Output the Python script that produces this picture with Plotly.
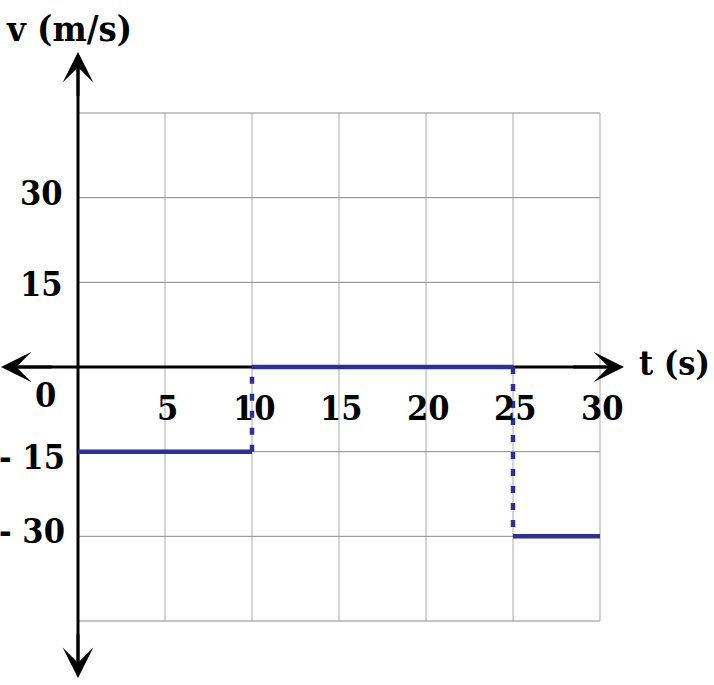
import plotly.graph_objects as go

# step velocity graph: v changes at t = 10 and t = 25
t_breaks = [0, 10, 25, 30]
v_levels = [-15, 0, -30]

x_grid = [0, 5, 10, 15, 20, 25, 30]
y_grid = [-45, -30, -15, 0, 15, 30, 45]

x_ticks = [5, 10, 15, 20, 25, 30]
x_labels = ["5", "10", "15", "20", "25", "30"]
y_ticks = [30, 15, -15, -30]
y_labels = ["30", "15", "- 15", "- 30"]

W, H = 714, 685
# pixel mapping of the drawing area
px_x0, px_x30 = 78, 600
px_y45, px_ym45 = 113, 621
sx = (px_x30 - px_x0) / 30
sy = (px_ym45 - px_y45) / 90
px_y0 = (px_y45 + px_ym45) / 2
x_range = [-px_x0 / sx, (W - px_x0) / sx]
y_range = [-(H - px_y0) / sy, px_y0 / sy]

blue = "#2E3192"
font_fam = "DejaVu Serif Condensed, DejaVu Serif"
lab_font = dict(family=font_fam, size=34, color="black", weight="bold")

fig = go.Figure()

# grid
gx, gy = [], []
for xv in x_grid:
    gx += [xv, xv, None]
    gy += [y_grid[0], y_grid[-1], None]
fig.add_trace(go.Scatter(x=gx, y=gy, mode="lines",
                         line=dict(color="#ababab", width=1), hoverinfo="skip"))
hx, hy = [], []
for yv in y_grid:
    hx += [x_grid[0], x_grid[-1], None]
    hy += [yv, yv, None]
fig.add_trace(go.Scatter(x=hx, y=hy, mode="lines",
                         line=dict(color="#8a8a8a", width=1), hoverinfo="skip"))

# axes lines
x_left, x_right = (1 - px_x0) / sx, (624 - px_x0) / sx
y_bot, y_top = -(678 - px_y0) / sy, (px_y0 - 52) / sy
fig.add_trace(go.Scatter(x=[x_left + 1, x_right - 1], y=[0, 0], mode="lines",
                         line=dict(color="black", width=3), hoverinfo="skip"))
fig.add_trace(go.Scatter(x=[0, 0], y=[y_bot + 3, y_top - 3], mode="lines",
                         line=dict(color="black", width=3), hoverinfo="skip"))

# solid levels
for i, v in enumerate(v_levels):
    fig.add_trace(go.Scatter(x=[t_breaks[i], t_breaks[i + 1]], y=[v, v], mode="lines",
                             line=dict(color=blue, width=4.5), hoverinfo="skip"))
# dashed jumps
for i in range(1, len(v_levels)):
    fig.add_trace(go.Scatter(x=[t_breaks[i], t_breaks[i]], y=[v_levels[i - 1], v_levels[i]],
                             mode="lines", line=dict(color=blue, width=4.5, dash="7px,10px"),
                             hoverinfo="skip"))

# arrowheads
arrow = dict(showarrow=True, arrowhead=3, arrowsize=1.7, arrowwidth=3, arrowcolor="black",
             axref="x", ayref="y", text="", standoff=0)
fig.add_annotation(x=x_right, y=0, ax=x_right - 3, ay=0, **arrow)
fig.add_annotation(x=x_left, y=0, ax=x_left + 3, ay=0, **arrow)
fig.add_annotation(x=0, y=y_top, ax=0, ay=y_top - 8, **arrow)
fig.add_annotation(x=0, y=y_bot, ax=0, ay=y_bot + 8, **arrow)

# tick labels
for xv, lab in zip(x_ticks, x_labels):
    fig.add_annotation(x=xv, y=0, text=lab, showarrow=False, xshift=2, yshift=-41,
                       xanchor="center", yanchor="middle", font=lab_font)
y_nudge = [5, -2, -5, 5]
for yv, lab, dy in zip(y_ticks, y_labels, y_nudge):
    fig.add_annotation(x=0, y=yv, text=lab, showarrow=False,
                       xshift=-13 if yv > 0 else -11, yshift=dy,
                       xanchor="right", yanchor="middle", font=lab_font)
fig.add_annotation(x=0, y=0, text="0", showarrow=False, xshift=-33, yshift=-28,
                   xanchor="center", yanchor="middle", font=lab_font)

# axis titles
fig.add_annotation(x=0, y=y_range[1], text="v (m/s)", showarrow=False,
                   xshift=-74, yshift=-28, xanchor="left", yanchor="middle",
                   font=dict(lab_font, size=36))
fig.add_annotation(x=x_range[1], y=0, text="t (s)", showarrow=False,
                   xshift=-2, yshift=4, xanchor="right", yanchor="middle", font=lab_font)

fig.update_layout(width=W, height=H, margin=dict(l=0, r=0, t=0, b=0),
                  showlegend=False, plot_bgcolor="white", paper_bgcolor="white",
                  xaxis=dict(range=x_range, visible=False, fixedrange=True),
                  yaxis=dict(range=y_range, visible=False, fixedrange=True))

# page body has a default margin; drop it so the figure sits at the window origin
fig.write_html("out.html", config={"displayModeBar": False},
               post_script="document.body.style.margin='0px';")
